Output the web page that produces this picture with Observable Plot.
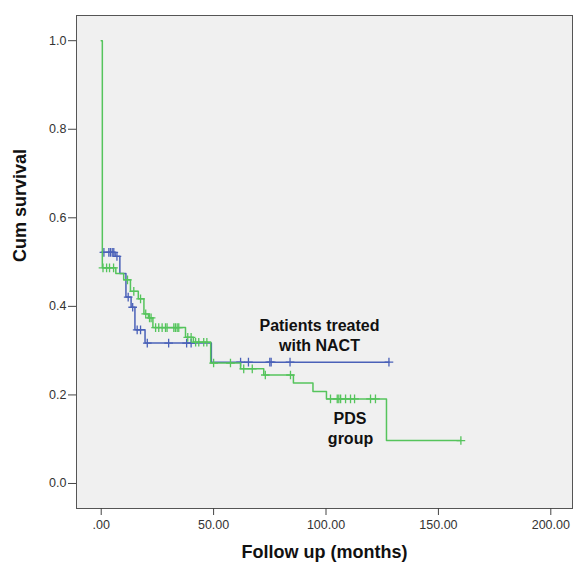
<!DOCTYPE html>
<html>
<head>
<meta charset="utf-8">
<script src="https://cdn.jsdelivr.net/npm/d3@7"></script>
<script src="https://cdn.jsdelivr.net/npm/@observablehq/plot@0.6"></script>
<style>
  body { margin: 0; background: #ffffff; }
  #chart svg { display: block; }
</style>
</head>
<body>
<div id="chart"></div>
<script>
// Kaplan-Meier steps
const nactTime = [0, 6.2, 8.3, 11, 13.3, 15, 19.5, 49];
const nactSurv = [0.522, 0.513, 0.474, 0.421, 0.398, 0.347, 0.317, 0.274];
const nactEnd = 128;
const nactCensor = [1.2, 3.4, 4.1, 4.9, 5.6, 7, 12, 14, 16, 17.5, 20.5, 30, 38, 40, 62, 65.5, 75, 75.6, 84, 128];

const pdsTime = [0, 0.5, 6.5, 10, 13, 16.5, 19, 21, 23, 37.5, 41, 48.7, 62, 72.3, 85.5, 94.2, 100.2, 126.9];
const pdsSurv = [1.0, 0.487, 0.474, 0.460, 0.434, 0.417, 0.383, 0.374, 0.352, 0.330, 0.319, 0.272, 0.259, 0.245, 0.227, 0.208, 0.191, 0.097];
const pdsEnd = 160;
const pdsCensor = [0.8, 2.4, 3.7, 5.5, 11.7, 14.5, 17.5, 19.8, 21.5, 22.2, 24.2, 25.6, 27.1, 28.6, 29.3, 32.3, 33, 33.8, 34.5, 38.5, 40, 42, 43.4, 45.6, 47, 50, 57.5, 63.4, 67.2, 73, 84.2, 102, 105, 105.7, 106.5, 108.7, 110.9, 112.7, 119.8, 122, 160];

const xTicks = [0, 50, 100, 150, 200];
const yTicks = [0, 0.2, 0.4, 0.6, 0.8, 1.0];

const labels = [
  {t: 97.1, s: 0.3560, text: "Patients treated"},
  {t: 97.1, s: 0.3100, text: "with NACT"},
  {t: 110.7, s: 0.1460, text: "PDS"},
  {t: 110.9, s: 0.1000, text: "group"}
];

const BLUE = "#4a61b8";
const GREEN = "#55c45c";

function stepPoints(times, surv, end) {
  const pts = times.map((t, i) => ({t, s: surv[i]}));
  pts.push({t: end, s: surv[surv.length - 1]});
  return pts;
}
function survAt(times, surv, t) {
  let v = surv[0];
  for (let i = 0; i < times.length; i++) if (times[i] <= t) v = surv[i];
  return v;
}
const nactLine = stepPoints(nactTime, nactSurv, nactEnd);
const pdsLine = stepPoints(pdsTime, pdsSurv, pdsEnd);
const nactCens = nactCensor.map(t => ({t, s: survAt(nactTime, nactSurv, t)}));
const pdsCens = pdsCensor.map(t => ({t, s: survAt(pdsTime, pdsSurv, t)}));

const font = "'Liberation Sans', Arial, sans-serif";
const fmtX = d => d === 0 ? ".00" : d.toFixed(2);

const chart = Plot.plot({
  width: 573,
  height: 568,
  marginLeft: 76,
  marginRight: 1,
  marginTop: 15,
  marginBottom: 60,
  style: {fontFamily: font, background: "#ffffff", overflow: "visible"},
  x: {domain: [-10.99, 209.65], ticks: xTicks, tickFormat: fmtX},
  y: {domain: [-0.0565, 1.0569], ticks: yTicks, tickFormat: d => d.toFixed(1)},
  marks: [
    Plot.frame({fill: "#f0f0f0", stroke: "none"}),
    Plot.line(nactLine, {x: "t", y: "s", curve: "step-after", stroke: BLUE, strokeWidth: 1.5}),
    Plot.dot(nactCens, {x: "t", y: "s", symbol: "plus", r: 2.9, stroke: BLUE, strokeWidth: 1.3}),
    Plot.line(pdsLine, {x: "t", y: "s", curve: "step-after", stroke: GREEN, strokeWidth: 1.5}),
    Plot.dot(pdsCens, {x: "t", y: "s", symbol: "plus", r: 2.9, stroke: GREEN, strokeWidth: 1.3}),
    Plot.text(labels, {x: "t", y: "s", text: "text", fontSize: 16, fontWeight: "bold", fill: "#111", textAnchor: "middle"}),
    Plot.frame({stroke: "#555", strokeWidth: 1}),
    Plot.axisX({ticks: xTicks, tickFormat: fmtX, tickSize: 7, tickPadding: 5, fontSize: 12.5, stroke: "#444", fill: "#333", label: null}),
    Plot.axisY({ticks: yTicks, tickFormat: d => d.toFixed(1), tickSize: 8, tickPadding: 2, fontSize: 12.5, stroke: "#444", fill: "#333", label: null}),
    Plot.text(["Follow up (months)"], {frameAnchor: "bottom", dy: 49, text: d => d, fontSize: 18, fontWeight: "bold", fill: "#111"}),
    Plot.text(["Cum survival"], {frameAnchor: "left", dx: -56, rotate: -90, text: d => d, fontSize: 18, fontWeight: "bold", fill: "#111"})
  ]
});
document.getElementById("chart").appendChild(chart);
</script>
</body>
</html>
